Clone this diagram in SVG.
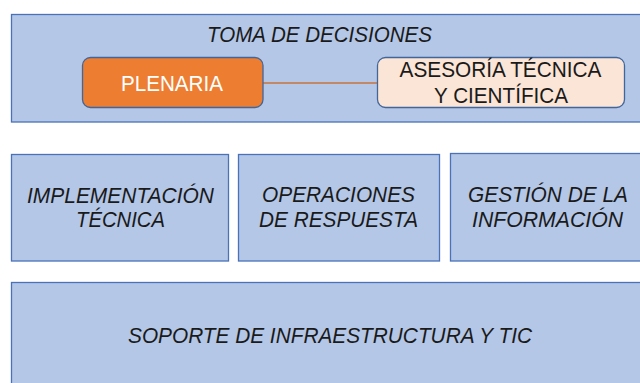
<svg xmlns="http://www.w3.org/2000/svg" width="640" height="383" viewBox="0 0 640 383">
<style>
.box{fill:#B4C7E7;stroke:#4A72B8;stroke-width:1.3}
.t{font-family:"Liberation Sans Narrow","Liberation Sans",Arial,sans-serif;font-style:italic;font-size:21.5px;fill:#1A1A1A;text-anchor:middle}
.u{font-family:"Liberation Sans Narrow","Liberation Sans",Arial,sans-serif;font-size:21.5px;text-anchor:middle}
</style>
<rect width="640" height="383" fill="#FFFFFF"/>
<g id="toma">
<rect class="box" x="11.5" y="14.5" width="640" height="107.5"/>
<text class="t" x="319.5" y="42" textLength="225" lengthAdjust="spacingAndGlyphs">TOMA DE DECISIONES</text>
</g>
<g id="connectors">
<line x1="263" y1="83" x2="378" y2="83" stroke="#C8733A" stroke-width="1.5"/>
</g>
<g id="plenaria">
<rect x="82.5" y="57.5" width="180.5" height="50" rx="8" fill="#ED7D31" stroke="#41669C" stroke-width="1.3"/>
<text class="u" x="172" y="91" fill="#FFFFFF" font-size="23" textLength="102" lengthAdjust="spacingAndGlyphs">PLENARIA</text>
</g>
<g id="asesoria">
<rect x="377.5" y="57.5" width="247" height="50" rx="8" fill="#FBE5D6" stroke="#41669C" stroke-width="1.3"/>
<text class="u" x="500.5" y="77" fill="#1A1A1A" textLength="202" lengthAdjust="spacingAndGlyphs">ASESORÍA TÉCNICA</text>
<text class="u" x="501" y="103" fill="#1A1A1A" textLength="134" lengthAdjust="spacingAndGlyphs">Y CIENTÍFICA</text>
</g>
<g id="implementacion">
<rect class="box" x="11.5" y="154.5" width="217" height="106.5"/>
<text class="t" x="120.5" y="203" textLength="187" lengthAdjust="spacingAndGlyphs">IMPLEMENTACIÓN</text>
<text class="t" x="120.5" y="227" textLength="89" lengthAdjust="spacingAndGlyphs">TÉCNICA</text>
</g>
<g id="operaciones">
<rect class="box" x="238.5" y="154.5" width="201" height="106.5"/>
<text class="t" x="338.5" y="202" textLength="153" lengthAdjust="spacingAndGlyphs">OPERACIONES</text>
<text class="t" x="338.5" y="227" textLength="159" lengthAdjust="spacingAndGlyphs">DE RESPUESTA</text>
</g>
<g id="gestion">
<rect class="box" x="450.5" y="153.5" width="200" height="107.5"/>
<text class="t" x="548" y="202" textLength="160" lengthAdjust="spacingAndGlyphs">GESTIÓN DE LA</text>
<text class="t" x="547.5" y="227" textLength="151" lengthAdjust="spacingAndGlyphs">INFORMACIÓN</text>
</g>
<g id="soporte">
<rect class="box" x="11.5" y="282.5" width="640" height="110"/>
<text class="t" x="330" y="343" textLength="404" lengthAdjust="spacingAndGlyphs">SOPORTE DE INFRAESTRUCTURA Y TIC</text>
</g>
</svg>
